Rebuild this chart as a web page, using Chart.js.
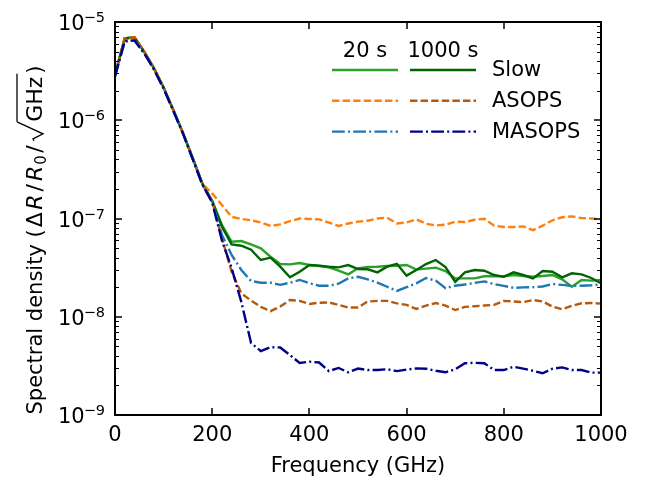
<!DOCTYPE html>
<html>
<head>
<meta charset="utf-8">
<script src="https://cdn.jsdelivr.net/npm/chart.js@4.4.1/dist/chart.umd.min.js"></script>
<style>
  html, body { margin: 0; padding: 0; background: #fff; }
  canvas { display: block; }
</style>
</head>
<body>
<canvas id="psd-chart" width="646" height="479"></canvas>
<script>
// frequency grid (GHz)
var freq = [0, 20, 40, 60, 80, 100, 120, 140, 160, 180, 200,
  220, 240, 260, 280, 300, 320, 340, 360, 380, 400,
  420, 440, 460, 480, 500, 520, 540, 560, 580, 600,
  620, 640, 660, 680, 700, 720, 740, 760, 780, 800,
  820, 840, 860, 880, 900, 920, 940, 960, 980, 1000];

// spectral density values
var slow20 = [2.9e-6, 6.8e-6, 7.0e-6, 5.0e-6, 3.4e-6, 2.15e-6, 1.27e-6, 7.4e-7, 4.1e-7, 2.25e-7, 1.51e-7,
  8.6e-8, 5.8e-8, 5.9e-8, 5.46e-8, 4.97e-8, 4.08e-8, 3.44e-8, 3.41e-8, 3.52e-8, 3.36e-8,
  3.28e-8, 3.18e-8, 2.94e-8, 2.70e-8, 3.11e-8, 3.21e-8, 3.23e-8, 3.28e-8, 3.31e-8, 3.36e-8,
  3.02e-8, 3.09e-8, 3.16e-8, 2.92e-8, 2.46e-8, 2.46e-8, 2.46e-8, 2.58e-8, 2.58e-8, 2.58e-8,
  2.66e-8, 2.60e-8, 2.55e-8, 2.60e-8, 2.66e-8, 2.40e-8, 2.02e-8, 2.37e-8, 2.33e-8, 2.37e-8];
var slow1000 = [2.9e-6, 6.8e-6, 7.0e-6, 5.0e-6, 3.4e-6, 2.15e-6, 1.27e-6, 7.4e-7, 4.1e-7, 2.25e-7, 1.51e-7,
  8.25e-8, 5.46e-8, 5.28e-8, 4.81e-8, 3.78e-8, 3.99e-8, 3.23e-8, 2.52e-8, 2.87e-8, 3.36e-8,
  3.31e-8, 3.23e-8, 3.18e-8, 3.36e-8, 3.06e-8, 3.04e-8, 2.83e-8, 3.23e-8, 3.46e-8, 2.62e-8,
  2.99e-8, 3.44e-8, 3.78e-8, 3.21e-8, 2.27e-8, 2.83e-8, 2.99e-8, 2.94e-8, 2.66e-8, 2.55e-8,
  2.83e-8, 2.66e-8, 2.46e-8, 2.92e-8, 2.87e-8, 2.52e-8, 2.77e-8, 2.70e-8, 2.48e-8, 2.19e-8];
var asops20 = [2.9e-6, 6.8e-6, 7.0e-6, 5.0e-6, 3.4e-6, 2.15e-6, 1.27e-6, 7.4e-7, 4.1e-7, 2.25e-7, 1.8e-7,
  1.37e-7, 1.04e-7, 9.9e-8, 9.6e-8, 9.1e-8, 8.4e-8, 8.7e-8, 9.4e-8, 1.0e-7, 9.9e-8,
  9.8e-8, 9.1e-8, 8.4e-8, 8.9e-8, 9.3e-8, 9.5e-8, 1.0e-7, 1.02e-7, 8.9e-8, 9.1e-8,
  9.8e-8, 8.85e-8, 8.5e-8, 8.65e-8, 9.3e-8, 9.2e-8, 9.7e-8, 9.95e-8, 8.45e-8, 8.2e-8,
  8.2e-8, 8.3e-8, 7.6e-8, 8.45e-8, 9.6e-8, 1.03e-7, 1.05e-7, 1.01e-7, 1.0e-7, 9.8e-8];
var asops1000 = [2.9e-6, 6.8e-6, 7.0e-6, 5.0e-6, 3.4e-6, 2.15e-6, 1.27e-6, 7.4e-7, 4.1e-7, 2.25e-7, 1.5e-7,
  6.3e-8, 2.87e-8, 1.73e-8, 1.46e-8, 1.26e-8, 1.14e-8, 1.27e-8, 1.48e-8, 1.45e-8, 1.35e-8,
  1.39e-8, 1.40e-8, 1.32e-8, 1.24e-8, 1.24e-8, 1.43e-8, 1.45e-8, 1.45e-8, 1.37e-8, 1.32e-8,
  1.20e-8, 1.30e-8, 1.38e-8, 1.30e-8, 1.17e-8, 1.26e-8, 1.28e-8, 1.30e-8, 1.32e-8, 1.45e-8,
  1.43e-8, 1.41e-8, 1.48e-8, 1.43e-8, 1.27e-8, 1.19e-8, 1.29e-8, 1.37e-8, 1.38e-8, 1.36e-8];
var masops20 = [2.8e-6, 6.3e-6, 6.5e-6, 4.8e-6, 3.3e-6, 2.1e-6, 1.25e-6, 7.3e-7, 4.05e-7, 2.2e-7, 1.48e-7,
  6.8e-8, 4.25e-8, 2.99e-8, 2.31e-8, 2.22e-8, 2.22e-8, 2.11e-8, 2.22e-8, 2.37e-8, 2.19e-8,
  2.07e-8, 2.07e-8, 2.17e-8, 2.46e-8, 2.55e-8, 2.40e-8, 2.22e-8, 2.02e-8, 1.83e-8, 2.0e-8,
  2.19e-8, 2.48e-8, 2.33e-8, 1.95e-8, 2.07e-8, 2.13e-8, 2.21e-8, 2.29e-8, 2.15e-8, 2.06e-8,
  1.97e-8, 1.99e-8, 2.0e-8, 2.03e-8, 2.15e-8, 2.11e-8, 2.06e-8, 2.07e-8, 2.09e-8, 2.13e-8];
var masops1000 = [2.8e-6, 6.4e-6, 6.5e-6, 4.8e-6, 3.3e-6, 2.1e-6, 1.25e-6, 7.3e-7, 4.0e-7, 2.2e-7, 1.45e-7,
  6.0e-8, 3.13e-8, 1.41e-8, 5.4e-9, 4.48e-9, 4.89e-9, 4.87e-9, 4.08e-9, 3.38e-9, 3.49e-9,
  3.42e-9, 2.80e-9, 3.01e-9, 2.72e-9, 2.97e-9, 2.87e-9, 2.87e-9, 2.92e-9, 2.80e-9, 2.90e-9,
  2.98e-9, 2.96e-9, 2.82e-9, 2.72e-9, 2.92e-9, 3.36e-9, 3.40e-9, 3.36e-9, 2.87e-9, 2.87e-9,
  3.10e-9, 2.96e-9, 2.82e-9, 2.66e-9, 2.96e-9, 3.05e-9, 2.87e-9, 2.87e-9, 2.70e-9, 2.70e-9];

// axis ticks
var xTicks = [0, 200, 400, 600, 800, 1000];
var yExponents = [-9, -8, -7, -6, -5];

// legend text
var legendCols = ['20 s', '1000 s'];
var legendRows = ['Slow', 'ASOPS', 'MASOPS'];

var FONT = '"DejaVu Sans", sans-serif';
var DASHED = [7.4, 3.2];
var DASHDOT = [12.8, 3.2, 2, 3.2];
var LW = 2.4;

// styles per legend row/column
var rowStyles = [
  { dash: [], colors: ['#2ca02c', '#006400'] },
  { dash: DASHED, colors: ['#ff7f0e', '#b5590f'] },
  { dash: DASHDOT, colors: ['#1f77b4', '#00008b'] }
];

function pts(arr) {
  return arr.map(function (v, i) { return { x: freq[i], y: v }; });
}

function ds(label, arr, color, dash) {
  return {
    label: label,
    data: pts(arr),
    borderColor: color,
    backgroundColor: color,
    borderWidth: LW,
    borderDash: dash,
    pointRadius: 0,
    fill: false,
    tension: 0
  };
}

var decorPlugin = {
  id: 'decor',
  afterDraw: function (chart) {
    var ctx = chart.ctx, a = chart.chartArea;
    var xs = chart.scales.x, ys = chart.scales.y;

    function seg(x1, y1, x2, y2) {
      ctx.beginPath();
      ctx.moveTo(x1, y1);
      ctx.lineTo(x2, y2);
      ctx.stroke();
    }

    ctx.save();
    ctx.strokeStyle = '#000';
    ctx.setLineDash([]);

    // inward ticks on all four sides
    ctx.lineWidth = 1.5;
    xTicks.forEach(function (v) {
      var px = Math.round(xs.getPixelForValue(v));
      seg(px, a.bottom, px, a.bottom - 7);
      seg(px, a.top, px, a.top + 7);
    });
    yExponents.forEach(function (e) {
      var py = Math.round(ys.getPixelForValue(Math.pow(10, e)));
      seg(a.left, py, a.left + 7, py);
      seg(a.right, py, a.right - 7, py);
    });
    ctx.lineWidth = 1;
    for (var e = -9; e < -5; e++) {
      for (var m = 2; m <= 9; m++) {
        var py = Math.round(ys.getPixelForValue(m * Math.pow(10, e))) + 0.5;
        seg(a.left, py, a.left + 4, py);
        seg(a.right, py, a.right - 4, py);
      }
    }

    // frame
    ctx.lineWidth = 2;
    ctx.strokeRect(a.left, a.top, a.right - a.left, a.bottom - a.top);

    // y tick labels 10^n
    ctx.fillStyle = '#000';
    ctx.textBaseline = 'alphabetic';
    ctx.textAlign = 'left';
    yExponents.forEach(function (e) {
      var py = ys.getPixelForValue(Math.pow(10, e));
      var sup = '\u2212' + Math.abs(e);
      ctx.font = '14.5px ' + FONT;
      var sw = ctx.measureText(sup).width;
      ctx.font = '21px ' + FONT;
      var bw = ctx.measureText('10').width;
      var right = a.left - 10;
      ctx.fillText('10', right - sw - bw + 1, py + 8);
      ctx.font = '14.5px ' + FONT;
      ctx.fillText(sup, right - sw, py);
    });

    // y axis title, laid out piece by piece along the rotated baseline
    var M = '22px ' + FONT;
    var parts = [
      { t: 'Spectral density (', f: '21px ' + FONT, gap: 2 },
      { t: '\u0394', f: M, gap: 2.5 },
      { t: 'R', f: 'italic ' + M, gap: 3 },
      { t: '/', f: M, gap: 3 },
      { t: 'R', f: 'italic ' + M, gap: 1 },
      { t: '0', f: '15px ' + FONT, gap: 2.5, dy: 4 },
      { t: '/', f: M, gap: 2.5 },
      { t: '', f: M, gap: 0, rad: 21 },
      { t: 'GHz', f: M, gap: 3, over: true },
      { t: ')', f: '21px ' + FONT, gap: 0 }
    ];
    var total = 0;
    parts.forEach(function (p) {
      ctx.font = p.f;
      p.w = p.rad ? p.rad : ctx.measureText(p.t).width;
      total += p.w + p.gap;
    });
    ctx.translate(42, 240);
    ctx.rotate(-Math.PI / 2);
    var cx = -total / 2;
    var radEnd = 0;
    ctx.lineWidth = 1.3;
    parts.forEach(function (p) {
      ctx.font = p.f;
      if (p.rad) {
        radEnd = cx + p.w;
        ctx.beginPath();
        ctx.moveTo(cx + 2, -8);
        ctx.lineTo(cx + 4, -9);
        ctx.lineTo(cx + 9, 1);
        ctx.lineTo(radEnd, -25);
        ctx.stroke();
      } else {
        ctx.fillText(p.t, cx, p.dy || 0);
      }
      if (p.over) {
        seg(radEnd, -25, cx + p.w + p.gap, -25);
      }
      cx += p.w + p.gap;
    });
    ctx.restore();

    // legend
    ctx.save();
    ctx.fillStyle = '#000';
    ctx.font = '21px ' + FONT;
    ctx.textBaseline = 'middle';
    ctx.textAlign = 'center';
    var colX = [a.left + 250, a.left + 328];
    var halfLen = 33;
    legendCols.forEach(function (c, i) { ctx.fillText(c, colX[i], a.top + 30); });
    ctx.textAlign = 'left';
    legendRows.forEach(function (r, j) {
      var ry = a.top + 48 + j * 30.8;
      rowStyles[j].colors.forEach(function (col, i) {
        ctx.strokeStyle = col;
        ctx.lineWidth = LW;
        ctx.setLineDash(rowStyles[j].dash);
        seg(colX[i] - halfLen, ry, colX[i] + halfLen, ry);
      });
      ctx.setLineDash([]);
      ctx.fillText(r, a.left + 377, ry + 1);
    });
    ctx.restore();
  }
};

var chart = new Chart(document.getElementById('psd-chart'), {
  type: 'line',
  data: {
    datasets: [
      ds('MASOPS 1000 s', masops1000, rowStyles[2].colors[1], DASHDOT),
      ds('MASOPS 20 s', masops20, rowStyles[2].colors[0], DASHDOT),
      ds('ASOPS 1000 s', asops1000, rowStyles[1].colors[1], DASHED),
      ds('ASOPS 20 s', asops20, rowStyles[1].colors[0], DASHED),
      ds('Slow 1000 s', slow1000, rowStyles[0].colors[1], []),
      ds('Slow 20 s', slow20, rowStyles[0].colors[0], [])
    ]
  },
  options: {
    responsive: false,
    animation: false,
    layout: { padding: { left: 115, right: 45, top: 22, bottom: 0 } },
    plugins: {
      legend: { display: false },
      tooltip: { enabled: false }
    },
    scales: {
      x: {
        type: 'linear',
        min: 0,
        max: 1000,
        afterBuildTicks: function (axis) {
          axis.ticks = xTicks.map(function (v) { return { value: v }; });
        },
        afterFit: function (axis) { axis.height = 64; },
        grid: { display: false, drawTicks: false },
        border: { display: false },
        ticks: {
          color: '#000',
          padding: 8,
          maxRotation: 0,
          font: { family: FONT, size: 21 },
          callback: function (v) { return String(v); }
        },
        title: {
          display: true,
          text: 'Frequency (GHz)',
          color: '#000',
          font: { family: FONT, size: 21 },
          padding: { top: 0, bottom: 0 }
        }
      },
      y: {
        type: 'logarithmic',
        display: false,
        min: 1e-9,
        max: 1e-5
      }
    }
  },
  plugins: [decorPlugin]
});
</script>
</body>
</html>
